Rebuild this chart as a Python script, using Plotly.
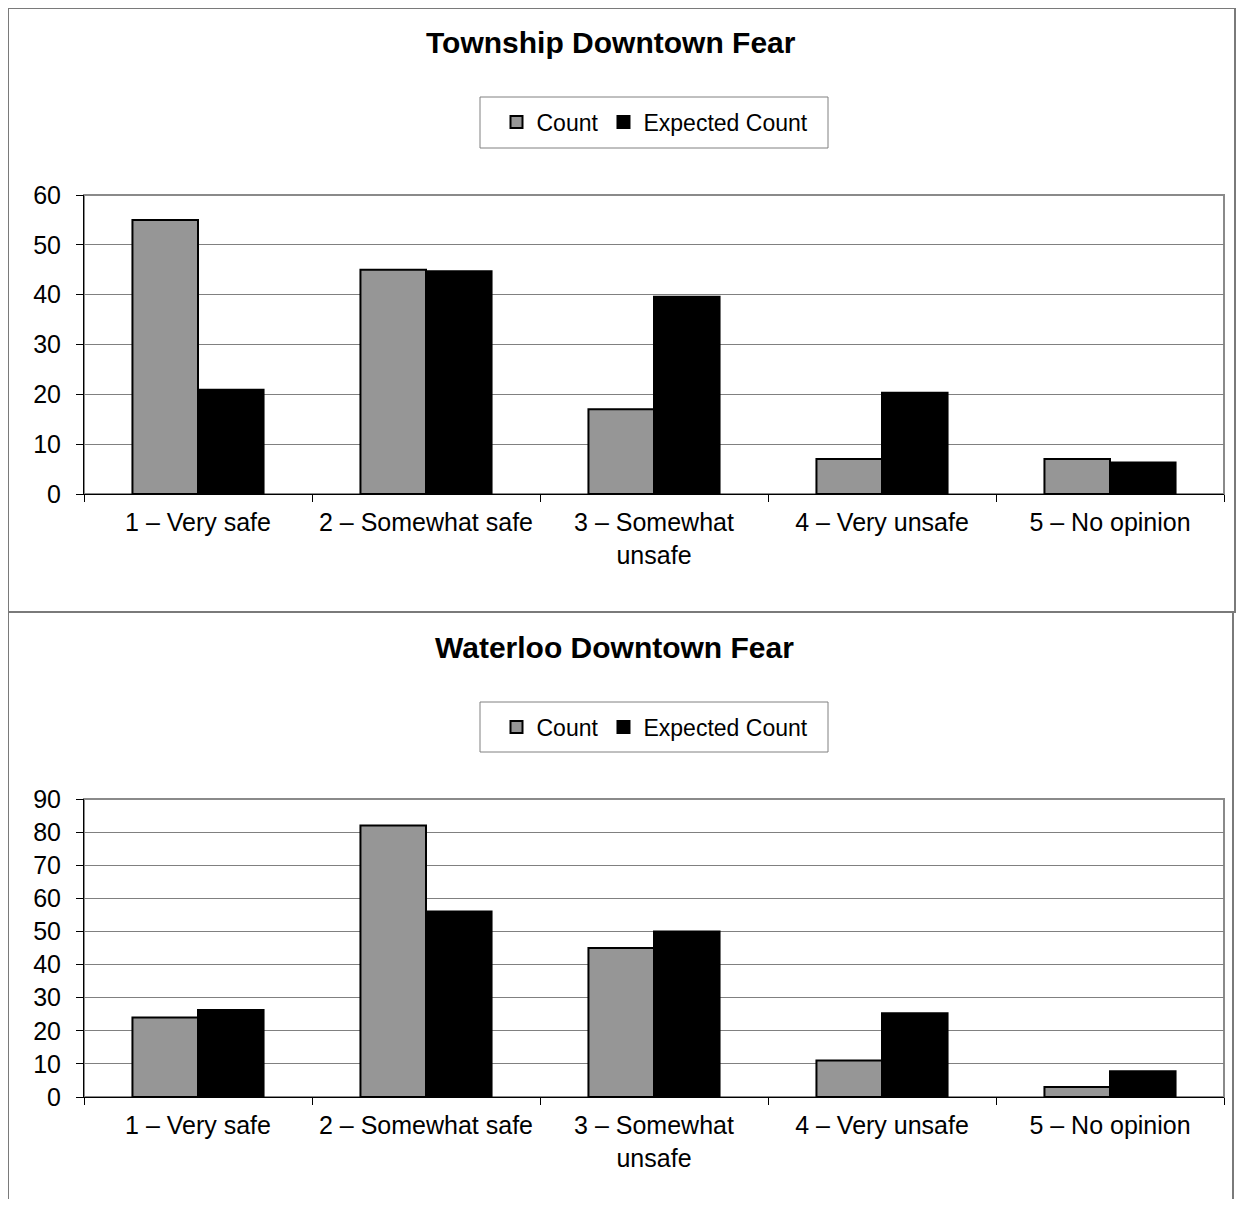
import plotly.graph_objects as go

categories = ["1 – Very safe", "2 – Somewhat safe", "3 – Somewhat unsafe", "4 – Very unsafe", "5 – No opinion"]
tick_labels = ["1 – Very safe", "2 – Somewhat safe", "3 – Somewhat<br>unsafe", "4 – Very unsafe", "5 – No opinion"]
series_names = ["Count", "Expected Count"]
township_count = [55, 45, 17, 7, 7]
township_expected = [20.9, 44.7, 39.6, 20.3, 6.3]
waterloo_count = [24, 82, 45, 11, 3]
waterloo_expected = [26.3, 56, 50, 25.3, 7.8]
titles = ["Township Downtown Fear", "Waterloo Downtown Fear"]

OFF = 8  # page body margin
W, H = 1244 - 2 * OFF, 1207 - 2 * OFF
FONT = "Liberation Sans, Arial, sans-serif"
GRAY = "#969696"


def px(x):
    return (x - OFF) / W


def py(y):
    return 1 - (y - OFF) / H


fig = go.Figure()

for i, (cnt, exp) in enumerate([(township_count, township_expected), (waterloo_count, waterloo_expected)]):
    xa = "x" if i == 0 else "x2"
    ya = "y" if i == 0 else "y2"
    lg = "legend" if i == 0 else "legend2"
    fig.add_trace(go.Bar(x=categories, y=cnt, name=series_names[0], xaxis=xa, yaxis=ya, legend=lg,
                         marker=dict(color=GRAY, line=dict(color="black", width=2))))
    fig.add_trace(go.Bar(x=categories, y=exp, name=series_names[1], xaxis=xa, yaxis=ya, legend=lg,
                         marker=dict(color="black", line=dict(color="black", width=2))))

xcommon = dict(type="category", tickvals=categories, ticktext=tick_labels, ticks="outside",
               tickson="boundaries", ticklen=7, tickcolor="black", showline=True, linecolor="black",
               linewidth=1, showgrid=False, tickfont=dict(family=FONT, size=25, color="black"),
               tickangle=0, ticklabelstandoff=6, domain=[px(84), px(1224)])
ycommon = dict(ticks="outside", ticklen=7, tickcolor="black", showline=True, linecolor="black",
               linewidth=1, showgrid=True, gridcolor="#808080", gridwidth=1, zeroline=False,
               tickfont=dict(family=FONT, size=25, color="black"), dtick=10, ticklabelstandoff=10)

legend_font = dict(family=FONT, size=23, color="black")
fig.update_layout(
    width=W, height=H,
    margin=dict(l=0, r=0, t=0, b=0, autoexpand=False),
    paper_bgcolor="white", plot_bgcolor="white",
    barmode="group", bargap=0.425, bargroupgap=0,
    font=dict(family=FONT, color="black"),
    xaxis=dict(**xcommon, anchor="y"),
    yaxis=dict(**ycommon, anchor="x", range=[0, 60], domain=[py(494), py(195)]),
    xaxis2=dict(**xcommon, anchor="y2"),
    yaxis2=dict(**ycommon, anchor="x2", range=[0, 90], domain=[py(1097), py(799)]),
    legend=dict(orientation="h", x=px(655), xanchor="center", y=py(122), yanchor="middle",
                font=legend_font, bgcolor="rgba(0,0,0,0)", borderwidth=0, itemwidth=30),
    legend2=dict(orientation="h", x=px(655), xanchor="center", y=py(727), yanchor="middle",
                 font=legend_font, bgcolor="rgba(0,0,0,0)", borderwidth=0, itemwidth=30),
    showlegend=True,
)

shapes = []
# plot frames
for xr, yr in [("x domain", "y domain"), ("x2 domain", "y2 domain")]:
    shapes.append(dict(type="rect", xref=xr, yref=yr, x0=0, x1=1, y0=0, y1=1,
                       line=dict(color="#8a8a8a", width=2), layer="below"))
# legend boxes
for top, bot in [(97, 148), (702, 752)]:
    shapes.append(dict(type="rect", xref="paper", yref="paper", x0=px(480), x1=px(828),
                       y0=py(bot), y1=py(top), line=dict(color="#808080", width=1)))
# chart borders
shapes.append(dict(type="rect", xref="paper", yref="paper", x0=px(8), x1=px(1235), y0=py(612), y1=py(8),
                   line=dict(color="#7a7a7a", width=2)))
shapes.append(dict(type="rect", xref="paper", yref="paper", x0=px(8), x1=px(1233), y0=py(1240), y1=py(612),
                   line=dict(color="#7a7a7a", width=2)))
fig.update_layout(shapes=shapes)

fig.add_annotation(text="<b>" + titles[0] + "</b>", xref="paper", yref="paper", x=px(611), y=py(42),
                   xanchor="center", yanchor="middle", showarrow=False,
                   font=dict(family=FONT, size=30, color="black"))
fig.add_annotation(text="<b>" + titles[1] + "</b>", xref="paper", yref="paper", x=px(614), y=py(647),
                   xanchor="center", yanchor="middle", showarrow=False,
                   font=dict(family=FONT, size=30, color="black"))

fig.write_html("out.html")
